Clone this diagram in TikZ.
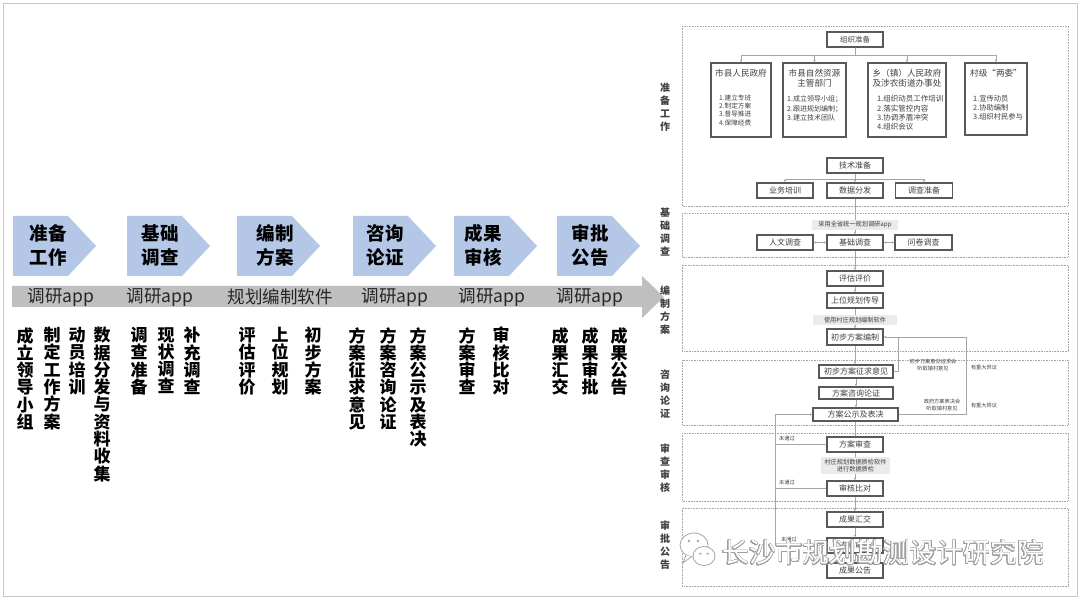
\documentclass[tikz,border=0pt]{standalone}
\usepackage{fontspec}
\usepackage{contour}
\usetikzlibrary{arrows.meta}
\setmainfont{Noto Sans CJK SC}
\definecolor{chev}{HTML}{B4C7E7}
\definecolor{band}{HTML}{BFBFBF}
\definecolor{boxdraw}{HTML}{595959}
\definecolor{linec}{HTML}{A6A6A6}
\definecolor{lab}{HTML}{EBEBEB}
\definecolor{txt}{HTML}{404040}
\contourlength{0.55pt}
\contournumber{24}
\tikzset{
 chevtxt/.style={font=\bfseries\fontsize{18.5}{24}\selectfont, align=center, inner sep=0},
 bandtxt/.style={font=\fontsize{17.5}{17.5}\selectfont, inner sep=0, text=black!85},
 vt/.style={font=\bfseries\fontsize{17}{17.3}\selectfont, align=center, inner sep=0, anchor=north},
 sec/.style={draw=gray!70, densely dotted, line width=0.6},
 sidelab/.style={font=\bfseries\fontsize{10}{13}\selectfont, align=center, inner sep=0, text=txt},
 fbox/.style={draw=boxdraw, line width=1.1, fill=white, minimum width=56, minimum height=15, inner sep=0, font=\fontsize{8}{9}\selectfont, text=txt},
 bigbox/.style={draw=boxdraw, line width=1.1, fill=white, inner sep=0},
 title/.style={font=\fontsize{8.6}{10}\selectfont, align=center, inner sep=0, text=txt},
 list/.style={align=left, inner sep=0, anchor=north west, text=txt},
 glab/.style={fill=lab, inner sep=0, font=\fontsize{6.2}{7}\selectfont, text=txt, align=center},
 con/.style={draw=linec, line width=0.7},
 arr/.style={con, -{Latex[length=2.6pt,width=2.6pt]}},
 note/.style={font=\fontsize{5.2}{7}\selectfont, text=txt, inner sep=0, align=center},
}
\begin{document}
\begin{tikzpicture}[x=1pt,y=-1pt]
\useasboundingbox (0,0) rectangle (1080,601);
\fill[white] (0,0) rectangle (1080,601);
\draw[gray!45, line width=0.8] (3,3) rectangle (1077,596);

% ---------- left panel ----------
\foreach \x in {13,127,237,353,454,557}
  \fill[chev] (\x,216) -- ++(55,0) -- ++(28,30) -- ++(-28,30) -- ++(-55,0) -- cycle;
\node[chevtxt] (c1t) at (48,245) {准备\\工作};
\node[chevtxt] (c2t) at (160,245) {基础\\调查};
\node[chevtxt] (c3t) at (275,245) {编制\\方案};
\node[chevtxt] (c4t) at (385,245) {咨询\\论证};
\node[chevtxt] (c5t) at (483,245) {成果\\审核};
\node[chevtxt] (c6t) at (590,245) {审批\\公告};

\fill[band] (12,286) -- (642,286) -- (642,276) -- (664,297) -- (642,318) -- (642,307) -- (12,307) -- cycle;
\node[bandtxt] (a1) at (61,297) {调研app};
\node[bandtxt] (a2) at (160,297) {调研app};
\node[bandtxt] (a3) at (280,297) {规划编制软件};
\node[bandtxt] (a4) at (395,297) {调研app};
\node[bandtxt] (a5) at (492,297) {调研app};
\node[bandtxt] (a6) at (590,297) {调研app};

\node[vt] (v1) at (25,327) {成\\立\\领\\导\\小\\组};
\node[vt] (v2) at (52,327) {制\\定\\工\\作\\方\\案};
\node[vt] (v3) at (77,327) {动\\员\\培\\训};
\node[vt] (v4) at (102,327) {数\\据\\分\\发\\与\\资\\料\\收\\集};
\node[vt] (v5) at (139,327) {调\\查\\准\\备};
\node[vt] (v6) at (166,327) {现\\状\\调\\查};
\node[vt] (v7) at (192,327) {补\\充\\调\\查};
\node[vt] (v8) at (247,327) {评\\估\\评\\价};
\node[vt] (v9) at (280,327) {上\\位\\规\\划};
\node[vt] (v10) at (313,327) {初\\步\\方\\案};
\node[vt] (v11) at (357,327) {方\\案\\征\\求\\意\\见};
\node[vt] (v12) at (388,327) {方\\案\\咨\\询\\论\\证};
\node[vt] (v13) at (418,327) {方\\案\\公\\示\\及\\表\\决};
\node[vt] (v14) at (467,327) {方\\案\\审\\查};
\node[vt] (v15) at (501,327) {审\\核\\比\\对};
\node[vt] (v16) at (560,327) {成\\果\\汇\\交};
\node[vt] (v17) at (590,327) {成\\果\\审\\批};
\node[vt] (v18) at (619,327) {成\\果\\公\\告};

% ---------- right panel: sections ----------
\draw[sec] (682,26) rectangle (1068,206);
\draw[sec] (682,213) rectangle (1068,257);
\draw[sec] (682,265) rectangle (1068,351);
\draw[sec] (682,360) rectangle (1068,425);
\draw[sec] (682,433) rectangle (1068,501);
\draw[sec] (682,508) rectangle (1068,586);

\node[sidelab] (s1) at (665,107) {准\\备\\工\\作};
\node[sidelab] (s2) at (665,232) {基\\础\\调\\查};
\node[sidelab] (s3) at (665,310) {编\\制\\方\\案};
\node[sidelab] (s4) at (665,394) {咨\\询\\论\\证};
\node[sidelab] (s5) at (665,468) {审\\查\\审\\核};
\node[sidelab] (s6) at (665,545) {审\\批\\公\\告};

% ---------- organisation ----------
\node[fbox, font=\fontsize{7.5}{9}\selectfont] (zz) at (855,39.5) {组织准备};
\node[bigbox, minimum width=60, minimum height=74] (b1) at (741,100) {};
\node[bigbox, minimum width=63, minimum height=74] (b2) at (814.5,100) {};
\node[bigbox, minimum width=78, minimum height=74] (b3) at (907,100) {};
\node[bigbox, minimum width=62, minimum height=72] (b4) at (996,99) {};
\node[title] (t1) at (741,73) {市县人民政府};
\node[title] (t2) at (814.5,78) {市县自然资源\\主管部门};
\node[title] (t3) at (907,78) {乡（镇）人民政府\\及涉农街道办事处};
\node[title] (t4) at (996,73) {村级“两委”};
\node[list, font=\fontsize{6.6}{8.2}\selectfont] (i1) at (719,94.8) {1.建立专班\\2.制定方案\\3.督导推进\\4.保障经费};
\node[list, font=\fontsize{7}{9.5}\selectfont] (i2) at (787,95.5) {1.成立领导小组；\\2.跟进规划编制；\\3.建立技术团队};
\node[list, font=\fontsize{7.5}{9.3}\selectfont] (i3) at (877,95.2) {1.组织动员工作培训\\2.落实管控内容\\3.协调矛盾冲突\\4.组织会议};
\node[list, font=\fontsize{7.3}{9}\selectfont] (i4) at (973,95.4) {1.宣传动员\\2.协助编制\\3.组织村民参与};

\node[fbox] (ts) at (855,165.5) {技术准备};
\node[fbox] (yw) at (785,190.5) {业务培训};
\node[fbox] (sj) at (855,190.5) {数据分发};
\node[fbox, minimum width=57] (dc) at (924,190.5) {调查准备};

\node[fbox] (rw) at (785,242.5) {人文调查};
\node[fbox] (jc) at (855,242.5) {基础调查};
\node[fbox, minimum width=57] (wj) at (923.5,242.5) {问卷调查};

\node[fbox] (pg) at (855,278.5) {评估评价};
\node[fbox] (sw) at (855,300.5) {上位规划传导};
\node[fbox, minimum height=16] (cb) at (855,337) {初步方案编制};

\node[fbox, minimum width=74, minimum height=13] (zq) at (856,371.5) {初步方案征求意见};
\node[fbox, minimum width=74, minimum height=12] (zx) at (856,393) {方案咨询论证};
\node[fbox, minimum width=85, minimum height=13] (gs) at (855.5,414.5) {方案公示及表决};

\node[fbox] (fs) at (855,444.5) {方案审查};
\node[fbox] (hd) at (855,488.5) {审核比对};
\node[fbox] (hj) at (855,519.5) {成果汇交};
\node[fbox] (sp) at (855,545.5) {成果审批};
\node[fbox] (gg) at (855,570.5) {成果公告};

% ---------- connectors ----------
\draw[arr] (zz.south) -- ++(0,8) -| (b1.north);
\draw[arr] (zz.south) -- ++(0,8) -| (b2.north);
\draw[arr] (zz.south) -- ++(0,8) -| (b3.north);
\draw[arr] (zz.south) -- ++(0,8) -| (b4.north);
\draw[arr] (ts.south) -- ++(0,6) -| (yw.north);
\draw[arr] (ts.south) -- ++(0,6) -| (sj.north);
\draw[arr] (ts.south) -- ++(0,6) -| (dc.north);
\draw[con, {Latex[length=2.6pt,width=2.6pt]}-{Latex[length=2.6pt,width=2.6pt]}] (rw.east) -- (jc.west);
\draw[con, {Latex[length=2.6pt,width=2.6pt]}-{Latex[length=2.6pt,width=2.6pt]}] (jc.east) -- (wj.west);

\foreach \a/\b in {sj/jc, jc/pg, pg/sw, sw/cb, cb/zq, zq/zx, zx/gs, gs/fs, fs/hd, hd/hj, hj/sp, sp/gg}
  \draw[arr] (\a.south) -- (\a.south |- \b.north);

\coordinate (k1) at (898,337);
\coordinate (k2) at (966,337);
\draw[arr] (zq.east) -| (k1) -- (cb.east);
\draw[con] (gs.east) -| (k2) -- (k1);

\coordinate (lx) at (775,0);
\draw[arr] (sp.west) -- (sp.west -| lx) |- (gs.west);
\draw[con] (fs.west) -- (fs.west -| lx);
\draw[con] (hd.west) -- (hd.west -| lx);

% ---------- gray labels and notes ----------
\node[glab, minimum width=86, minimum height=10] (g1) at (855,225) {采用全省统一规划调研app};
\node[glab, minimum width=84, minimum height=10] (g2) at (855,320) {使用村庄规划编制软件};
\node[glab, minimum width=69, minimum height=17] (g3) at (855.5,465.5) {村庄规划数据质检软件\\进行数据质检};

\node[note] (n1) at (933,365.5) {初步方案意见征求会\\听取镇村意见};
\node[note] (n2) at (984,368) {有重大异议};
\node[note] (n3) at (942,405) {政府方案表决会\\听取镇村意见};
\node[note] (n4) at (984,406) {有重大异议};
\node[note] (n5) at (787,439) {未通过};
\node[note] (n6) at (787,483) {未通过};
\node[note] (n7) at (789,540) {未通过};

% ---------- watermark ----------
\draw[gray!70, fill=white, line width=0.8] (694,545) ellipse (14 and 12);
\draw[gray!70, fill=white, line width=0.8] (686,555) -- (683,563) -- (691,557);
\fill[gray!70] (689,541) circle (1.3) (698,541) circle (1.3);
\draw[gray!70, fill=white, line width=0.8] (704,556) ellipse (11 and 9.5);
\draw[gray!70, line width=0.7] (699,553) arc (180:0:1.4) (706,553) arc (180:0:1.4);
\node[inner sep=0, font=\fontsize{26.8}{27}\selectfont, text=white] (wm) at (883,553) {\contour{gray!75}{长沙市规划勘测设计研究院}};
\end{tikzpicture}
\end{document}
